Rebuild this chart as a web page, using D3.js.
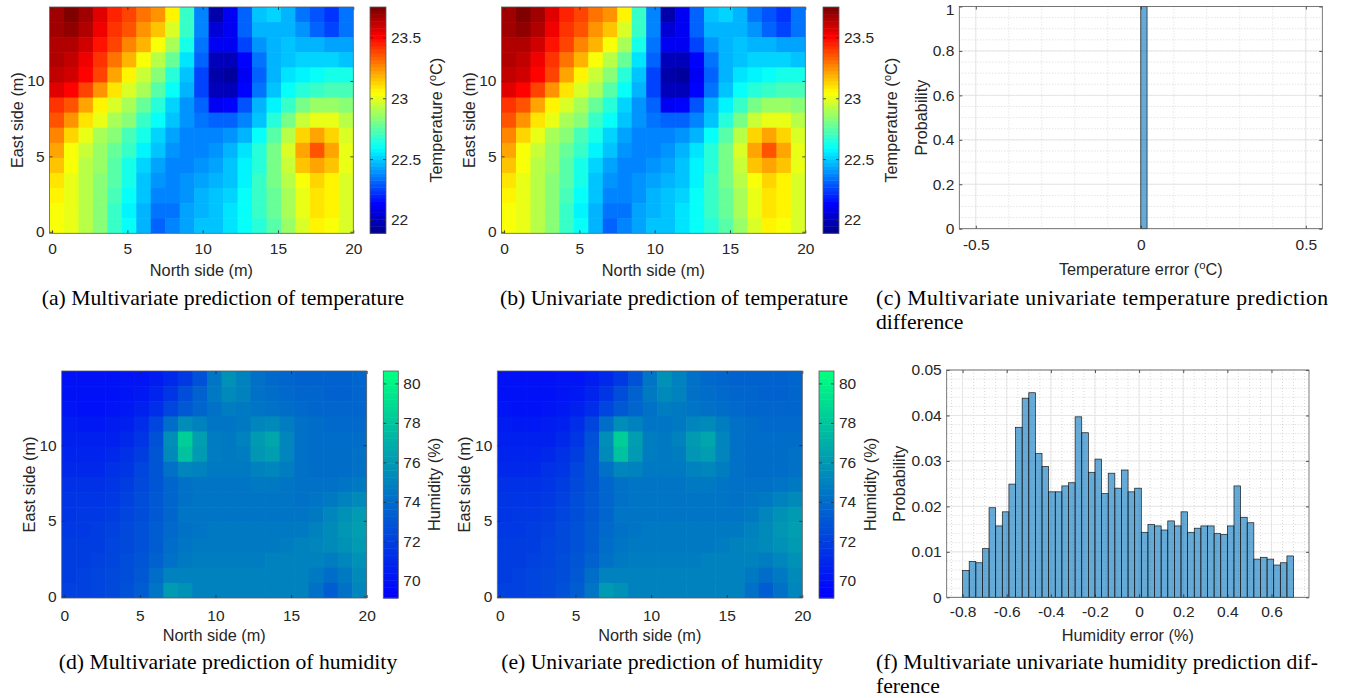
<!DOCTYPE html>
<html>
<head>
<meta charset="utf-8">
<script src="https://cdn.jsdelivr.net/npm/d3@7"></script>
<style>
  body { margin: 0; background: #fff; }
  svg { font-family: "Liberation Sans", Arial, sans-serif; }
  .cap { font-family: "Liberation Serif", "Times New Roman", serif; font-size: 21.7px; fill: #000; }
</style>
</head>
<body>
<script>
// ---------- data ----------
var mapXDomain = [-0.17, 20];
var mapYDomain = [-0.1, 14.9];
var mapXTicks = [0, 5, 10, 15, 20];
var mapYTicks = [0, 5, 10];

var tempRange = [21.89, 23.75];
var tempTicks = [22, 22.5, 23, 23.5];
var humRange = [69.13, 80.63];
var humTicks = [70, 72, 74, 76, 78, 80];

// temperature field, rows from top (y~14.4) to bottom (y~0.4), columns x = 0..20
var tempRows = [
  [23.68,23.75,23.68,23.55,23.45,23.38,23.30,23.25,23.08,22.68,22.38,21.95,22.10,22.30,22.48,22.52,22.45,22.35,22.28,22.22,22.35],
  [23.68,23.72,23.65,23.52,23.42,23.35,23.25,23.15,22.98,22.68,22.38,22.05,22.12,22.30,22.45,22.47,22.45,22.40,22.30,22.25,22.35],
  [23.66,23.66,23.58,23.48,23.38,23.28,23.18,23.05,22.88,22.62,22.35,22.10,22.10,22.25,22.40,22.47,22.48,22.47,22.45,22.42,22.42],
  [23.64,23.63,23.54,23.42,23.30,23.18,23.05,22.92,22.78,22.55,22.30,22.00,22.00,22.15,22.35,22.45,22.50,22.52,22.52,22.52,22.50],
  [23.62,23.60,23.50,23.38,23.22,23.08,22.95,22.82,22.65,22.48,22.25,21.95,21.92,22.10,22.30,22.45,22.55,22.58,22.60,22.62,22.62],
  [23.55,23.50,23.40,23.25,23.10,22.98,22.88,22.75,22.60,22.45,22.25,22.00,22.00,22.15,22.35,22.50,22.60,22.66,22.70,22.72,22.72],
  [23.42,23.35,23.22,23.08,22.98,22.88,22.78,22.66,22.52,22.40,22.30,22.12,22.15,22.28,22.45,22.58,22.70,22.80,22.85,22.85,22.82],
  [23.35,23.25,23.10,23.00,22.90,22.82,22.70,22.60,22.48,22.40,22.35,22.30,22.30,22.38,22.50,22.65,22.80,22.95,23.02,23.00,22.92],
  [23.28,23.12,23.00,22.90,22.82,22.72,22.62,22.52,22.42,22.38,22.38,22.38,22.40,22.47,22.60,22.75,22.92,23.12,23.22,23.12,22.98],
  [23.20,23.05,22.95,22.87,22.78,22.68,22.58,22.48,22.40,22.38,22.38,22.40,22.45,22.53,22.65,22.80,22.98,23.20,23.35,23.20,23.02],
  [23.15,23.03,22.93,22.85,22.76,22.64,22.52,22.42,22.36,22.38,22.40,22.42,22.48,22.56,22.66,22.80,22.96,23.14,23.22,23.15,23.00],
  [23.10,23.02,22.93,22.84,22.74,22.62,22.50,22.40,22.38,22.40,22.42,22.45,22.50,22.58,22.68,22.80,22.92,23.05,23.12,23.07,22.98],
  [23.06,23.00,22.92,22.83,22.72,22.60,22.48,22.38,22.36,22.40,22.45,22.48,22.52,22.60,22.68,22.78,22.90,23.02,23.10,23.06,22.97],
  [23.05,23.00,22.92,22.82,22.70,22.58,22.45,22.34,22.34,22.42,22.46,22.50,22.55,22.60,22.68,22.78,22.88,23.00,23.10,23.06,22.97],
  [23.04,23.00,22.92,22.82,22.70,22.60,22.45,22.32,22.36,22.44,22.48,22.50,22.55,22.60,22.66,22.75,22.86,22.98,23.08,23.05,22.97]
];

// humidity field, same layout
var humRows = [
  [70.0,69.9,69.9,70.0,70.1,70.2,70.5,71.0,71.8,72.8,74.5,75.6,75.0,74.2,73.9,73.8,73.6,73.5,73.5,73.6,73.7],
  [70.0,69.9,69.9,70.0,70.1,70.3,70.8,71.6,72.6,73.5,74.6,75.3,74.9,74.3,74.1,73.9,73.8,73.7,73.6,73.6,73.7],
  [70.1,70.0,70.0,70.1,70.3,70.6,71.2,72.2,73.2,73.8,74.3,74.8,74.6,74.4,74.3,74.1,73.9,73.8,73.7,73.7,73.8],
  [70.4,70.3,70.3,70.4,70.7,71.2,72.2,74.0,75.5,75.0,74.5,74.5,74.6,75.2,75.3,74.8,74.2,74.0,73.9,73.9,73.9],
  [70.7,70.6,70.6,70.7,71.0,71.6,72.8,75.5,78.3,76.2,74.8,74.6,74.9,76.0,76.5,75.2,74.3,74.1,74.0,74.0,74.1],
  [70.9,70.8,70.8,71.0,71.3,71.9,73.0,75.3,77.8,76.0,74.8,74.6,74.8,75.8,76.2,75.1,74.3,74.1,74.0,74.1,74.2],
  [71.1,71.0,71.1,71.3,71.6,72.2,73.0,74.2,75.2,75.0,74.7,74.6,74.6,75.0,75.2,74.8,74.3,74.1,74.0,74.1,74.3],
  [71.3,71.3,71.4,71.6,71.9,72.4,73.0,73.8,74.3,74.5,74.5,74.5,74.5,74.6,74.6,74.5,74.3,74.2,74.2,74.4,74.7],
  [71.5,71.5,71.6,71.8,72.1,72.6,73.1,73.7,74.2,74.4,74.5,74.5,74.5,74.5,74.5,74.4,74.3,74.4,74.6,75.0,75.4],
  [71.6,71.7,71.8,72.0,72.3,72.7,73.2,73.8,74.4,74.5,74.5,74.5,74.5,74.5,74.5,74.5,74.5,74.7,75.1,75.6,76.0],
  [71.8,71.8,71.9,72.1,72.4,72.8,73.3,73.9,74.3,74.5,74.6,74.6,74.6,74.6,74.6,74.6,74.7,74.9,75.3,75.8,76.2],
  [71.9,71.9,72.0,72.2,72.5,72.9,73.4,74.0,74.4,74.6,74.7,74.7,74.7,74.7,74.7,74.8,74.9,75.1,75.3,75.7,76.0],
  [72.0,72.0,72.1,72.3,72.6,73.0,73.6,74.3,74.6,74.8,74.8,74.8,74.8,74.8,74.9,75.0,75.0,75.0,74.8,75.2,75.7],
  [72.0,72.1,72.2,72.4,72.7,73.2,74.0,75.0,75.0,74.9,74.9,74.9,74.9,74.9,75.0,75.0,75.0,74.6,74.0,74.6,75.4],
  [72.1,72.1,72.2,72.4,72.8,73.4,74.5,76.0,75.6,75.0,74.9,74.9,74.9,74.9,75.0,75.0,74.9,74.2,73.4,74.2,75.2]
];

// temperature error histogram (all zero difference)
var tempErrEdges = [0, 0.019];
var tempErrProb = [1];
var tempErrXTicks = [-0.5, 0, 0.5];
var tempErrYTicks = [0, 0.2, 0.4, 0.6, 0.8, 1];

// humidity error histogram
var humErrEdges = [-0.80,-0.77,-0.74,-0.71,-0.68,-0.65,-0.62,-0.59,-0.56,-0.53,-0.50,-0.47,-0.44,-0.41,-0.38,-0.35,-0.32,
  -0.29,-0.26,-0.23,-0.20,-0.17,-0.14,-0.11,-0.08,-0.05,-0.02,0.01,0.04,0.07,0.10,0.13,0.16,0.19,0.22,0.25,0.28,0.31,
  0.34,0.37,0.40,0.43,0.46,0.49,0.52,0.55,0.58,0.61,0.64,0.67,0.70];
var humErrProb = [0.0059,0.0079,0.0076,0.0107,0.0197,0.0157,0.0188,0.0249,0.0374,0.0438,0.0450,0.0316,0.0288,0.0232,
  0.0232,0.0245,0.0252,0.0397,0.0362,0.0275,0.0304,0.0228,0.0273,0.0240,0.0280,0.0232,0.0240,0.0143,0.0160,0.0157,
  0.0148,0.0168,0.0157,0.0188,0.0143,0.0152,0.0157,0.0157,0.0140,0.0138,0.0157,0.0245,0.0176,0.0164,0.0084,0.0088,
  0.0084,0.0071,0.0076,0.0091];
var humErrXTicks = [-0.8, -0.6, -0.4, -0.2, 0, 0.2, 0.4, 0.6];
var humErrYTicks = [0, 0.01, 0.02, 0.03, 0.04, 0.05];

// ---------- setup ----------
var svgWidth = 1351, svgHeight = 698;
var textColor = "#262626";
var tickFont = 15.5;   // tick labels
var labelFont = 16.3;  // axis titles (matlab uses 1.1x)

var svg = d3.select("body").append("svg")
  .attr("width", svgWidth)
  .attr("height", svgHeight);

// matlab jet and winter colormaps
var jet = d3.scaleLinear()
  .domain([0, 0.125, 0.375, 0.625, 0.875, 1])
  .range(["#00008f", "#0000ff", "#00ffff", "#ffff00", "#ff0000", "#800000"]);
var winter = d3.scaleLinear()
  .domain([0, 1])
  .range(["#0000ff", "#00ff80"]);

function styleAxis(sel) {
  sel.select(".domain").remove();
  sel.attr("font-size", tickFont).attr("font-family", null);
  sel.selectAll("line").attr("stroke", textColor).attr("stroke-width", 0.8);
  sel.selectAll("text").attr("fill", textColor);
  return sel;
}

// label parts: plain strings, or {superscript: "o"}
function addParts(t, parts) {
  parts.forEach(function(part) {
    if (typeof part === "string") {
      t.append("tspan").text(part);
    } else {
      t.append("tspan")
        .attr("baseline-shift", "super")
        .attr("font-size", labelFont * 0.7)
        .text(part.superscript);
    }
  });
}

function rotLabel(x, y, parts) {
  var t = svg.append("text")
    .attr("transform", `translate(${x},${y}) rotate(-90)`)
    .attr("text-anchor", "middle")
    .attr("font-size", labelFont)
    .attr("fill", textColor);
  addParts(t, parts);
}

function heatmap(p) {
  var g = svg.append("g");
  var x = d3.scaleLinear().domain(mapXDomain).range([p.left, p.right]);
  var y = d3.scaleLinear().domain(mapYDomain).range([p.bottom, p.top]);
  var col = d3.scaleBand().domain(d3.range(p.grid[0].length)).range([p.left, p.right]);
  var row = d3.scaleBand().domain(d3.range(p.grid.length)).range([p.top, p.bottom]);
  var level = d3.scaleQuantize().domain(p.range).range(d3.range(64));

  svg.append("clipPath").attr("id", "clip" + p.id)
    .append("rect")
    .attr("x", p.left).attr("y", p.top)
    .attr("width", p.right - p.left).attr("height", p.bottom - p.top);

  g.append("g").attr("clip-path", `url(#clip${p.id})`)
    .selectAll("g")
    .data(p.grid)
    .enter()
    .append("g")
    .attr("transform", (d, j) => `translate(0,${row(j)})`)
    .selectAll("rect")
    .data(d => d)
    .enter()
    .append("rect")
    .attr("x", (d, i) => col(i))
    .attr("y", 0)
    .attr("width", col.bandwidth() + 0.6)
    .attr("height", row.bandwidth() + 0.6)
    .attr("fill", d => p.cmap(level(d) / 63));

  // axes, ticks inside on all four sides
  styleAxis(g.append("g").attr("transform", `translate(0,${p.bottom})`)
    .call(d3.axisBottom(x).tickValues(mapXTicks).tickSizeInner(-3).tickSizeOuter(0).tickPadding(p.xPad)));
  styleAxis(g.append("g").attr("transform", `translate(0,${p.top})`)
    .call(d3.axisTop(x).tickValues(mapXTicks).tickSizeInner(-3).tickSizeOuter(0).tickFormat("")));
  styleAxis(g.append("g").attr("transform", `translate(${p.left},0)`)
    .call(d3.axisLeft(y).tickValues(mapYTicks).tickSizeInner(-3).tickSizeOuter(0).tickPadding(5)));
  styleAxis(g.append("g").attr("transform", `translate(${p.right},0)`)
    .call(d3.axisRight(y).tickValues(mapYTicks).tickSizeInner(-3).tickSizeOuter(0).tickFormat("")));

  g.append("rect")
    .attr("x", p.left).attr("y", p.top)
    .attr("width", p.right - p.left).attr("height", p.bottom - p.top)
    .attr("fill", "none").attr("stroke", "#5a5a5a").attr("stroke-width", 0.8);

  // colorbar
  var cb = d3.scaleLinear().domain(p.range).range([p.bottom, p.top]);
  var step = (p.range[1] - p.range[0]) / 64;
  g.append("g").selectAll("rect")
    .data(d3.range(64))
    .enter()
    .append("rect")
    .attr("x", p.cbLeft)
    .attr("y", k => cb(p.range[0] + (k + 1) * step))
    .attr("width", p.cbRight - p.cbLeft)
    .attr("height", k => cb(p.range[0] + k * step) - cb(p.range[0] + (k + 1) * step) + 0.5)
    .attr("fill", k => p.cmap(k / 63));
  styleAxis(g.append("g").attr("transform", `translate(${p.cbRight},0)`)
    .call(d3.axisRight(cb).tickValues(p.ticks).tickSizeInner(-3).tickSizeOuter(0).tickPadding(5).tickFormat(d => String(d))));
  styleAxis(g.append("g").attr("transform", `translate(${p.cbLeft},0)`)
    .call(d3.axisLeft(cb).tickValues(p.ticks).tickSizeInner(-3).tickSizeOuter(0).tickFormat("")));
  g.append("rect")
    .attr("x", p.cbLeft).attr("y", p.top)
    .attr("width", p.cbRight - p.cbLeft).attr("height", p.bottom - p.top)
    .attr("fill", "none").attr("stroke", "#5a5a5a").attr("stroke-width", 0.8);

  // labels
  svg.append("text")
    .attr("x", (p.left + p.right) / 2).attr("y", p.xLabelY)
    .attr("text-anchor", "middle").attr("font-size", labelFont).attr("fill", textColor)
    .text("North side (m)");
  rotLabel(p.left - 27, (p.top + p.bottom) / 2, ["East side (m)"]);
  rotLabel(p.cbLabelX, (p.top + p.bottom) / 2, p.cbLabel);
}

function histogram(p) {
  var g = svg.append("g");
  var x = d3.scaleLinear().domain(p.xDomain).range([p.left, p.right]);
  var y = d3.scaleLinear().domain(p.yDomain).range([p.bottom, p.top]);

  // minor grid (dotted) then major grid
  g.append("g").selectAll("line")
    .data(p.xMinor)
    .enter().append("line")
    .attr("x1", d => x(d)).attr("x2", d => x(d))
    .attr("y1", p.top).attr("y2", p.bottom)
    .attr("stroke", "#cfcfcf").attr("stroke-width", 0.8).attr("stroke-dasharray", "1,2");
  g.append("g").selectAll("line")
    .data(p.yMinor)
    .enter().append("line")
    .attr("y1", d => y(d)).attr("y2", d => y(d))
    .attr("x1", p.left).attr("x2", p.right)
    .attr("stroke", "#cfcfcf").attr("stroke-width", 0.8).attr("stroke-dasharray", "1,2");
  g.append("g").selectAll("line")
    .data(p.xTicks)
    .enter().append("line")
    .attr("x1", d => x(d)).attr("x2", d => x(d))
    .attr("y1", p.top).attr("y2", p.bottom)
    .attr("stroke", "#e2e2e2").attr("stroke-width", 0.8);
  g.append("g").selectAll("line")
    .data(p.yTicks)
    .enter().append("line")
    .attr("y1", d => y(d)).attr("y2", d => y(d))
    .attr("x1", p.left).attr("x2", p.right)
    .attr("stroke", "#e2e2e2").attr("stroke-width", 0.8);

  // bars
  g.append("g").selectAll("rect")
    .data(p.prob)
    .enter()
    .append("rect")
    .attr("x", (d, i) => x(p.edges[i]))
    .attr("y", d => y(d))
    .attr("width", (d, i) => x(p.edges[i + 1]) - x(p.edges[i]))
    .attr("height", d => y(0) - y(d))
    .attr("fill", "#0072bd").attr("fill-opacity", 0.6)
    .attr("stroke", "#1a1a1a").attr("stroke-width", 0.7);

  var fmt = d => String(d);
  styleAxis(g.append("g").attr("transform", `translate(0,${p.bottom})`)
    .call(d3.axisBottom(x).tickValues(p.xTicks).tickSizeInner(-3).tickSizeOuter(0).tickPadding(p.xPad).tickFormat(fmt)));
  styleAxis(g.append("g").attr("transform", `translate(0,${p.top})`)
    .call(d3.axisTop(x).tickValues(p.xTicks).tickSizeInner(-3).tickSizeOuter(0).tickFormat("")));
  var left = styleAxis(g.append("g").attr("transform", `translate(${p.left},0)`)
    .call(d3.axisLeft(y).tickValues(p.yTicks).tickSizeInner(-3).tickSizeOuter(0).tickPadding(5).tickFormat(fmt)));
  // keep the top tick label inside the page
  left.selectAll("text").filter(d => y(d) < 9).attr("dy", "0.5em");
  styleAxis(g.append("g").attr("transform", `translate(${p.right},0)`)
    .call(d3.axisRight(y).tickValues(p.yTicks).tickSizeInner(-3).tickSizeOuter(0).tickFormat("")));

  g.append("rect")
    .attr("x", p.left).attr("y", p.top)
    .attr("width", p.right - p.left).attr("height", p.bottom - p.top)
    .attr("fill", "none").attr("stroke", "#5a5a5a").attr("stroke-width", 0.8);

  var t = svg.append("text")
    .attr("x", (p.left + p.right) / 2).attr("y", p.xLabelY)
    .attr("text-anchor", "middle").attr("font-size", labelFont).attr("fill", textColor);
  addParts(t, p.xLabel);
  rotLabel(p.yLabelX, (p.top + p.bottom) / 2, ["Probability"]);
}

// ---------- panels ----------
var tempLabel = ["Temperature (", {superscript: "o"}, "C)"];
var humLabel = ["Humidity (%)"];

heatmap({id: "a", left: 49.5, right: 353.3, top: 7, bottom: 233.3, cbLeft: 370, cbRight: 386,
  grid: tempRows, cmap: jet, range: tempRange, ticks: tempTicks, cbLabel: tempLabel,
  cbLabelX: 442, xPad: 9.5, xLabelY: 276});
heatmap({id: "b", left: 501.5, right: 805.3, top: 7, bottom: 233.3, cbLeft: 823, cbRight: 839,
  grid: tempRows, cmap: jet, range: tempRange, ticks: tempTicks, cbLabel: tempLabel,
  cbLabelX: 897, xPad: 9.5, xLabelY: 276});
heatmap({id: "d", left: 61.7, right: 366.7, top: 371, bottom: 598, cbLeft: 383.3, cbRight: 398.3,
  grid: humRows, cmap: winter, range: humRange, ticks: humTicks, cbLabel: humLabel,
  cbLabelX: 440, xPad: 11.5, xLabelY: 640.5});
heatmap({id: "e", left: 497.3, right: 802.3, top: 371, bottom: 598, cbLeft: 819, cbRight: 834,
  grid: humRows, cmap: winter, range: humRange, ticks: humTicks, cbLabel: humLabel,
  cbLabelX: 876, xPad: 11.5, xLabelY: 640.5});

histogram({left: 959.3, right: 1322.3, top: 6.5, bottom: 228.7,
  xDomain: [-0.55, 0.55], yDomain: [0, 1],
  edges: tempErrEdges, prob: tempErrProb, xTicks: tempErrXTicks, yTicks: tempErrYTicks,
  xMinor: d3.range(-5, 6).map(k => k / 10), yMinor: d3.range(0, 21).map(k => k / 20),
  xLabel: ["Temperature error (", {superscript: "o"}, "C)"], xLabelY: 274.5, yLabelX: 927, xPad: 10});
histogram({left: 946.7, right: 1309, top: 370, bottom: 597.3,
  xDomain: [-0.872, 0.77], yDomain: [0, 0.05],
  edges: humErrEdges, prob: humErrProb, xTicks: humErrXTicks, yTicks: humErrYTicks,
  xMinor: d3.range(-17, 16).map(k => k / 20), yMinor: d3.range(0, 26).map(k => k / 500),
  xLabel: ["Humidity error (%)"], xLabelY: 641, yLabelX: 905.3, xPad: 9});

// ---------- captions ----------
svg.append("text").attr("class", "cap").attr("x", 223).attr("y", 305).attr("text-anchor", "middle")
  .text("(a) Multivariate prediction of temperature");
svg.append("text").attr("class", "cap").attr("x", 674).attr("y", 305).attr("text-anchor", "middle")
  .text("(b) Univariate prediction of temperature");
svg.append("text").attr("class", "cap").attr("x", 876).attr("y", 305)
  .attr("textLength", 452).attr("lengthAdjust", "spacing")
  .text("(c) Multivariate univariate temperature prediction");
svg.append("text").attr("class", "cap").attr("x", 876).attr("y", 329).text("difference");
svg.append("text").attr("class", "cap").attr("x", 228).attr("y", 669).attr("text-anchor", "middle")
  .text("(d) Multivariate prediction of humidity");
svg.append("text").attr("class", "cap").attr("x", 662).attr("y", 669).attr("text-anchor", "middle")
  .text("(e) Univariate prediction of humidity");
svg.append("text").attr("class", "cap").attr("x", 876).attr("y", 669)
  .attr("textLength", 442).attr("lengthAdjust", "spacing")
  .text("(f) Multivariate univariate humidity prediction dif-");
svg.append("text").attr("class", "cap").attr("x", 876).attr("y", 693).text("ference");
</script>
</body>
</html>
